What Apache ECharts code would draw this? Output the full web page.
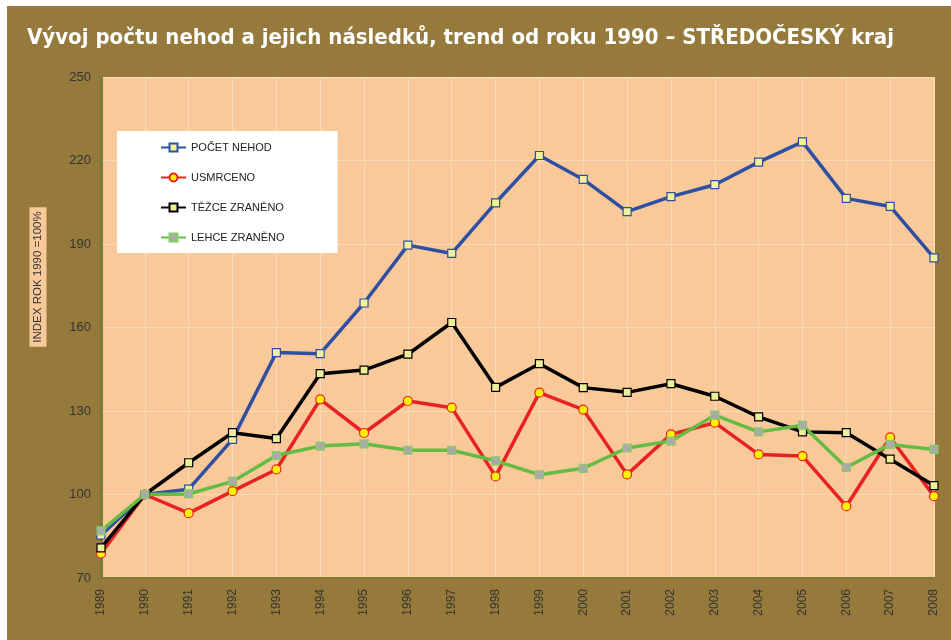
<!DOCTYPE html>
<html>
<head>
<meta charset="utf-8">
<script src="https://cdn.jsdelivr.net/npm/echarts@6/dist/echarts.min.js"></script>
<style>
  html, body { margin: 0; padding: 0; background: #ffffff; }
  #chart { width: 951px; height: 640px; }
</style>
</head>
<body>
<div id="chart"></div>
<script>
// roky
var years = ['1989', '1990', '1991', '1992', '1993', '1994', '1995', '1996', '1997', '1998',
  '1999', '2000', '2001', '2002', '2003', '2004', '2005', '2006', '2007', '2008'];

// index, rok 1990 = 100
var pocetNehod = [85.4, 100, 101.9, 119.8, 151.0, 150.6, 168.8, 189.6, 186.6, 204.8,
  221.8, 213.2, 201.6, 207.0, 211.3, 219.4, 226.7, 206.4, 203.5, 185.0];
var usmrceno = [78.8, 100, 93.3, 101.2, 109.0, 134.2, 122.1, 133.6, 131.2, 106.5,
  136.6, 130.5, 107.2, 121.6, 125.8, 114.4, 113.8, 95.8, 120.5, 99.4];
var tezceZraneno = [80.8, 100, 111.4, 122.2, 120.1, 143.4, 144.7, 150.4, 161.8, 138.5,
  147.0, 138.4, 136.7, 139.8, 135.3, 127.9, 122.5, 122.2, 112.7, 103.2];
var lehceZraneno = [86.9, 100, 100.2, 104.7, 114.0, 117.4, 118.2, 115.9, 115.9, 112.1,
  107.1, 109.4, 116.7, 119.2, 128.5, 122.5, 124.9, 109.7, 118.0, 116.2];

var seriesNames = ['POČET NEHOD', 'USMRCENO', 'TĚŽCE ZRANĚNO', 'LEHCE ZRANĚNO'];
var yTicks = { min: 70, max: 250, step: 30 };

var chart = echarts.init(document.getElementById('chart'));

function lineSeries(name, data, color, symbol, fill, border) {
  return {
    name: name,
    type: 'line',
    data: data,
    symbol: symbol,
    symbolSize: symbol === 'circle' ? 9 : 8,
    lineStyle: { color: color, width: 3.5 },
    itemStyle: { color: fill, borderColor: border, borderWidth: 1.2 },
    emphasis: { disabled: true }
  };
}

var option = {
  backgroundColor: 'transparent',
  animation: false,
  textStyle: { fontFamily: 'Liberation Sans, Arial, sans-serif' },
  graphic: [
    {
      type: 'rect', z: -10, silent: true,
      shape: { x: 7, y: 6, width: 944, height: 634 },
      style: { fill: '#957a3b' }
    },
    {
      type: 'text', left: 27, top: 27,
      style: {
        text: 'Vývoj počtu nehod a jejich následků, trend od roku 1990 – STŘEDOČESKÝ kraj',
        fill: '#ffffff', fontSize: 22, fontWeight: 'bold',
        fontFamily: 'DejaVu Sans Condensed, sans-serif'
      }
    },
    {
      type: 'text', x: 38, y: 277, rotation: Math.PI / 2,
      style: {
        text: 'INDEX ROK 1990 =100%',
        fill: '#333333', fontSize: 11.5,
        fontFamily: 'Liberation Sans, Arial, sans-serif',
        align: 'center', verticalAlign: 'middle',
        backgroundColor: '#f9c99a', padding: [3, 4, 2, 4]
      }
    }
  ],
  legend: {
    orient: 'vertical',
    left: 117, top: 131,
    backgroundColor: '#ffffff',
    padding: [11, 53, 10, 43],
    itemWidth: 25, itemHeight: 10, itemGap: 19,
    textStyle: { color: '#222222', fontSize: 11 },
    data: seriesNames
  },
  grid: { left: 101, right: 17, top: 77, bottom: 62, show: true, backgroundColor: '#f9c99a', borderWidth: 0 },
  xAxis: {
    type: 'category',
    data: years,
    boundaryGap: false,
    axisLine: { lineStyle: { color: '#7c7a34', width: 2 } },
    axisTick: { show: false },
    splitLine: { show: true, lineStyle: { color: '#fbdcb6', width: 1 } },
    axisLabel: { rotate: 90, color: '#333333', fontSize: 12, margin: 11 }
  },
  yAxis: {
    type: 'value',
    min: yTicks.min, max: yTicks.max, interval: yTicks.step,
    axisLine: { show: true, lineStyle: { color: '#7c7a34', width: 3 } },
    axisTick: { show: true, length: 4, lineStyle: { color: '#7c7a34', width: 2 } },
    splitLine: { show: true, lineStyle: { color: '#fbdcb6', width: 1 } },
    axisLabel: { color: '#333333', fontSize: 13, margin: 10 }
  },
  series: [
    lineSeries(seriesNames[0], pocetNehod, '#2f4fa2', 'rect', '#f2f29a', '#2f4fa2'),
    lineSeries(seriesNames[1], usmrceno, '#e8231f', 'circle', '#fff200', '#e8231f'),
    lineSeries(seriesNames[2], tezceZraneno, '#000000', 'rect', '#eeee99', '#000000'),
    lineSeries(seriesNames[3], lehceZraneno, '#66bb44', 'rect', '#aaaaaa', '#88cc66')
  ]
};

chart.setOption(option);
</script>
</body>
</html>
